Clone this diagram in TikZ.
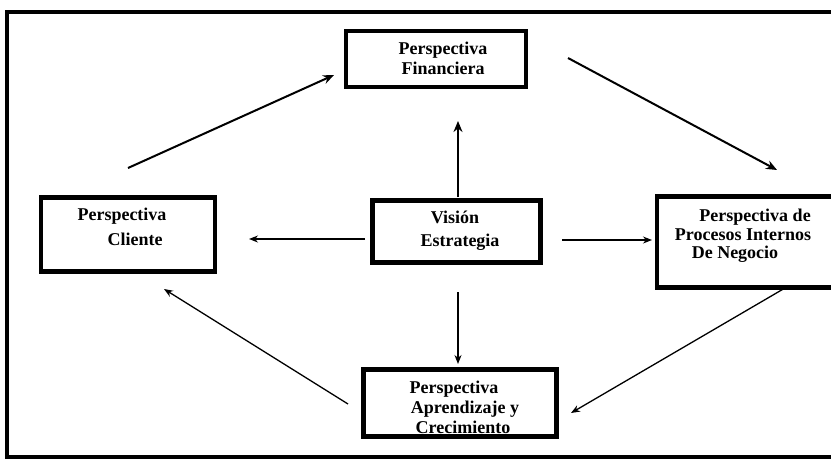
\documentclass[tikz,border=0pt]{standalone}
\usepackage{fontspec}
\setmainfont{Liberation Serif}
\usetikzlibrary{arrows.meta}
\begin{document}
\begin{tikzpicture}[x=1pt,y=-1pt,
  boxx/.style={draw,line width=4.5pt,rectangle,inner sep=0pt},
  txt/.style={font=\bfseries\fontsize{18}{20}\selectfont,inner sep=0pt,anchor=base},
  arr/.style={line width=1.3pt,-{Stealth[length=9pt,width=7pt]}},
  arrb/.style={line width=2pt,-{Stealth[length=11pt,width=9pt]}}]
\useasboundingbox (0,0) rectangle (831,459);
\draw[line width=4pt] (7,12) rectangle (845,457);
% boxes
\node[boxx,minimum width=180pt,minimum height=56pt] (fin) at (436,59) {};
\node[boxx,minimum width=174pt,minimum height=74pt] (cli) at (128,234.5) {};
\node[boxx,minimum width=168pt,minimum height=62pt] (vis) at (456.5,231.5) {};
\node[boxx,minimum width=190pt,minimum height=91pt] (pro) at (752,242) {};
\node[boxx,minimum width=193pt,minimum height=67pt] (apr) at (460,403) {};
% texts
\node[txt] (t1) at (443,54) {Perspectiva};
\node[txt] (t2) at (443,74) {Financiera};
\node[txt] (t3) at (122,220) {Perspectiva};
\node[txt] (t4) at (135,245) {Cliente};
\node[txt] (t5) at (455,223) {Visión};
\node[txt] (t6) at (460,246) {Estrategia};
\node[txt] (t7) at (755,221) {Perspectiva de};
\node[txt] (t8) at (743,240) {Procesos Internos};
\node[txt] (t9) at (735,258) {De Negocio};
\node[txt] (t10) at (454,393) {Perspectiva};
\node[txt] (t11) at (465,413) {Aprendizaje y};
\node[txt] (t12) at (463,433) {Crecimiento};
% connector endpoints
\coordinate (a1) at (128,168); \coordinate (a2) at (334,75);
\coordinate (b1) at (568,58);  \coordinate (b2) at (777,170);
\coordinate (c1) at (785,288); \coordinate (c2) at (571,413);
\coordinate (d1) at (348,404); \coordinate (d2) at (164,289);
\coordinate (e1) at (458,197); \coordinate (e2) at (458,121);
\coordinate (f1) at (365,239); \coordinate (f2) at (249,239);
\coordinate (g1) at (562,240); \coordinate (g2) at (652,240);
\coordinate (h1) at (458,292); \coordinate (h2) at (458,364);
\draw[arrb] (a1) -- (a2);
\draw[arrb] (b1) -- (b2);
\draw[arr] (c1) -- (c2);
\draw[arr] (d1) -- (d2);
\draw[arrb] (e1) -- (e2);
\draw[arr] (f1) -- (f2);
\draw[arr] (g1) -- (g2);
\draw[arr] (h1) -- (h2);
\end{tikzpicture}
\end{document}
